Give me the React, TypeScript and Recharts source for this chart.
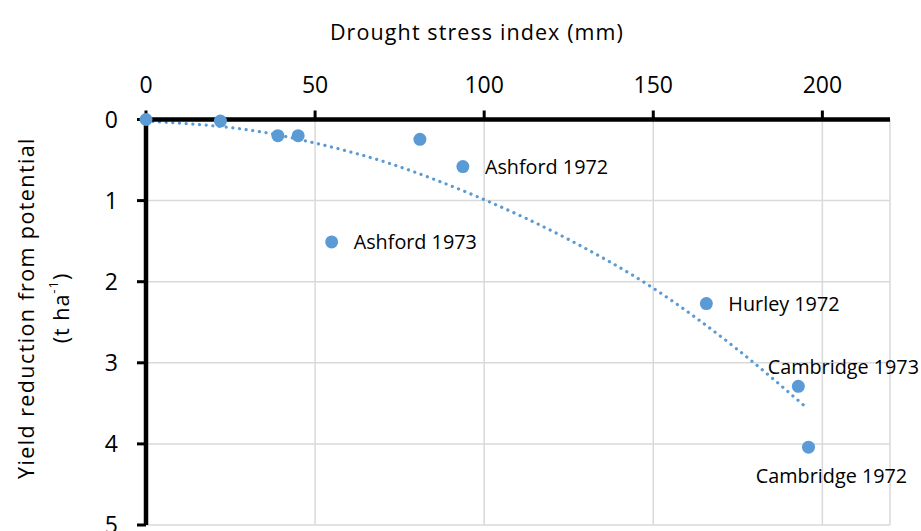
import React from 'react';
import { ComposedChart, Scatter, Line, XAxis, YAxis, CartesianGrid, Label } from 'recharts';

const FONT = "'Open Sans', sans-serif";
const BLUE = '#5B9BD5';

// Observed sites
const siteNames = ['', '', '', '', '', 'Ashford 1972', 'Ashford 1973', 'Hurley 1972', 'Cambridge 1973', 'Cambridge 1972'];
const droughtIndex = [0, 22, 39, 45, 81, 93.7, 54.9, 165.7, 192.9, 195.9];
const yieldReduction = [0, 0.02, 0.2, 0.2, 0.245, 0.58, 1.51, 2.27, 3.29, 4.04];

// Trend line
const trendX = [0, 3, 13.3, 26.6, 35.5, 48.3, 59.1, 71.9, 84.7, 99, 125, 150, 175, 194.4];
const trendY = [0.02, 0.027, 0.055, 0.108, 0.163, 0.274, 0.385, 0.54, 0.73, 0.97, 1.48, 2.08, 2.84, 3.52];

const xTicks = [0, 50, 100, 150, 200];
const yTicks = [0, 1, 2, 3, 4, 5];

const pointData = droughtIndex.map((x, i) => ({ x, y: yieldReduction[i], name: siteNames[i] }));
const trendData = trendX.map((x, i) => ({ x, y: trendY[i] }));

const labelPlacement: Record<string, { dx: number; dy: number; anchor: 'start' | 'middle' | 'end' }> = {
  'Ashford 1972': { dx: 22, dy: 0, anchor: 'start' },
  'Ashford 1973': { dx: 22, dy: 0, anchor: 'start' },
  'Hurley 1972': { dx: 22, dy: 0, anchor: 'start' },
  'Cambridge 1973': { dx: 45, dy: -20, anchor: 'middle' },
  'Cambridge 1972': { dx: 23, dy: 28, anchor: 'middle' },
};

const PointShape = (props: any) => {
  const { cx, cy, payload } = props;
  const place = payload && payload.name ? labelPlacement[payload.name] : null;
  return (
    <g>
      <circle cx={cx} cy={cy} r={6.5} fill={BLUE} />
      {place && (
        <text
          x={cx + place.dx}
          y={cy + place.dy}
          textAnchor={place.anchor}
          dominantBaseline="central"
          fontFamily={FONT}
          fontSize={19.8}
          fill="#000"
        >
          {payload.name}
        </text>
      )}
    </g>
  );
};

const XTitle = () => (
  <text
    x={477}
    y={31}
    textAnchor="middle"
    dominantBaseline="central"
    fontFamily={FONT}
    fontSize={21.5}
    letterSpacing={1.1}
    fill="#000"
  >
    Drought stress index (mm)
  </text>
);

const YTitle = () => (
  <g>
    <text
      x={25}
      y={308}
      transform="rotate(-90, 25, 308)"
      textAnchor="middle"
      dominantBaseline="central"
      fontFamily={FONT}
      fontSize={21.5}
      letterSpacing={1.4}
      fill="#000"
    >
      Yield reduction from potential
    </text>
    <text
      x={60}
      y={308}
      transform="rotate(-90, 60, 308)"
      textAnchor="middle"
      dominantBaseline="central"
      fontFamily={FONT}
      fontSize={21.5}
      letterSpacing={1}
      fill="#000"
    >
      (t ha<tspan fontSize={13} dy={-7}>-1</tspan>
      <tspan dy={7}>)</tspan>
    </text>
  </g>
);

export default function App() {
  return (
    <div style={{ position: 'fixed', left: 0, top: 0, width: 921, height: 531, overflow: 'hidden', background: '#fff' }}>
      <ComposedChart width={921} height={545} margin={{ top: 79.5, right: 31, bottom: 20, left: 86 }}>
        <CartesianGrid stroke="#d9d9d9" strokeWidth={1.5} />
        <XAxis
          dataKey="x"
          type="number"
          orientation="top"
          domain={[0, 220]}
          ticks={xTicks}
          height={40}
          tickSize={9}
          tickMargin={18}
          axisLine={{ stroke: '#000', strokeWidth: 4.5 }}
          tickLine={{ stroke: '#000', strokeWidth: 3 }}
          tick={{ fill: '#000', fontSize: 23, fontFamily: FONT }}
          interval={0}
        >
          <Label content={<XTitle />} />
        </XAxis>
        <YAxis
          dataKey="y"
          type="number"
          reversed
          domain={[0, 5]}
          ticks={yTicks}
          width={60}
          tickSize={9}
          tickMargin={19}
          axisLine={{ stroke: '#000', strokeWidth: 4.5 }}
          tickLine={{ stroke: '#000', strokeWidth: 3 }}
          tick={{ fill: '#000', fontSize: 23, fontFamily: FONT }}
          interval={0}
        >
          <Label content={<YTitle />} />
        </YAxis>
        <Scatter data={pointData} dataKey="y" fill={BLUE} shape={<PointShape />} isAnimationActive={false} />
        <Line
          data={trendData}
          dataKey="y"
          type="monotone"
          stroke={BLUE}
          strokeWidth={3.2}
          strokeDasharray="0.1 6.6"
          strokeLinecap="round"
          dot={false}
          activeDot={false}
          isAnimationActive={false}
        />
      </ComposedChart>
    </div>
  );
}
